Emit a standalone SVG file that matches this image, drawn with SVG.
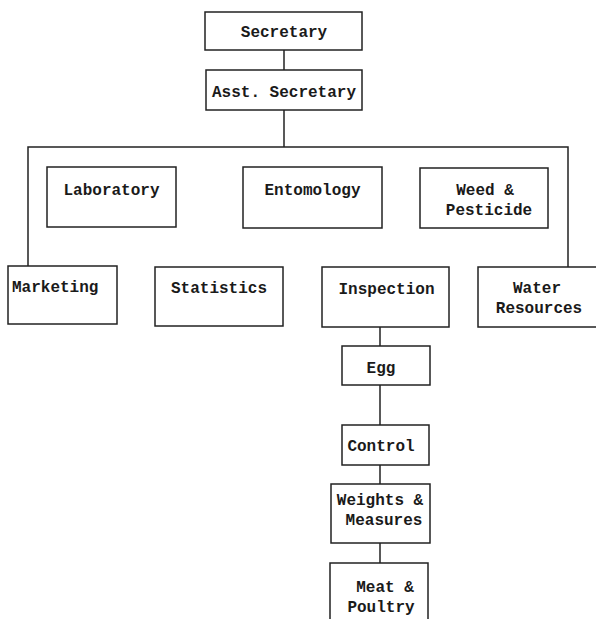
<svg xmlns="http://www.w3.org/2000/svg" width="596" height="619" viewBox="0 0 596 619">
<style>
.box{fill:#fff;stroke:#222;stroke-width:1.5}
.ln{fill:none;stroke:#222;stroke-width:1.5}
text{font-family:"Liberation Mono","Courier New",monospace;font-size:16px;font-weight:bold;fill:#1a1a1a;text-anchor:middle}
</style>
<rect width="596" height="619" fill="#fff"/>
<g id="connectors">
<path class="ln" d="M284 50V70"/>
<path class="ln" d="M284 110V147"/>
<path class="ln" d="M28 266V147H568V267"/>
<path class="ln" d="M380 327V346"/>
<path class="ln" d="M380 385V425"/>
<path class="ln" d="M380 465V484"/>
<path class="ln" d="M380 543V563"/>
</g>
<g id="secretary"><rect class="box" x="205" y="12" width="157" height="38"/><text x="284" y="37">Secretary</text></g>
<g id="asst-secretary"><rect class="box" x="206" y="70" width="156" height="40"/><text x="284" y="97">Asst. Secretary</text></g>
<g id="laboratory"><rect class="box" x="47" y="167" width="129" height="60"/><text x="111.5" y="195">Laboratory</text></g>
<g id="entomology"><rect class="box" x="243" y="167" width="139" height="61"/><text x="312.5" y="195">Entomology</text></g>
<g id="weed-pesticide"><rect class="box" x="420" y="168" width="128" height="60"/><text x="485" y="195">Weed &amp;</text><text x="489" y="215">Pesticide</text></g>
<g id="marketing"><rect class="box" x="8" y="266" width="109" height="58"/><text x="12" y="292" style="text-anchor:start">Marketing</text></g>
<g id="statistics"><rect class="box" x="155" y="267" width="128" height="59"/><text x="219" y="293">Statistics</text></g>
<g id="inspection"><rect class="box" x="322" y="267" width="127" height="60"/><text x="386.5" y="294">Inspection</text></g>
<g id="water-resources"><rect class="box" x="478" y="267" width="130" height="60"/><text x="537" y="293">Water</text><text x="539" y="313">Resources</text></g>
<g id="egg"><rect class="box" x="342" y="346" width="88" height="39"/><text x="381" y="373">Egg</text></g>
<g id="control"><rect class="box" x="342" y="425" width="87" height="40"/><text x="381" y="451">Control</text></g>
<g id="weights-measures"><rect class="box" x="331" y="484" width="99" height="59"/><text x="380" y="505">Weights &amp;</text><text x="384" y="525">Measures</text></g>
<g id="meat-poultry"><rect class="box" x="330" y="563" width="98" height="70"/><text x="385" y="592">Meat &amp;</text><text x="381" y="612">Poultry</text></g>
</svg>
